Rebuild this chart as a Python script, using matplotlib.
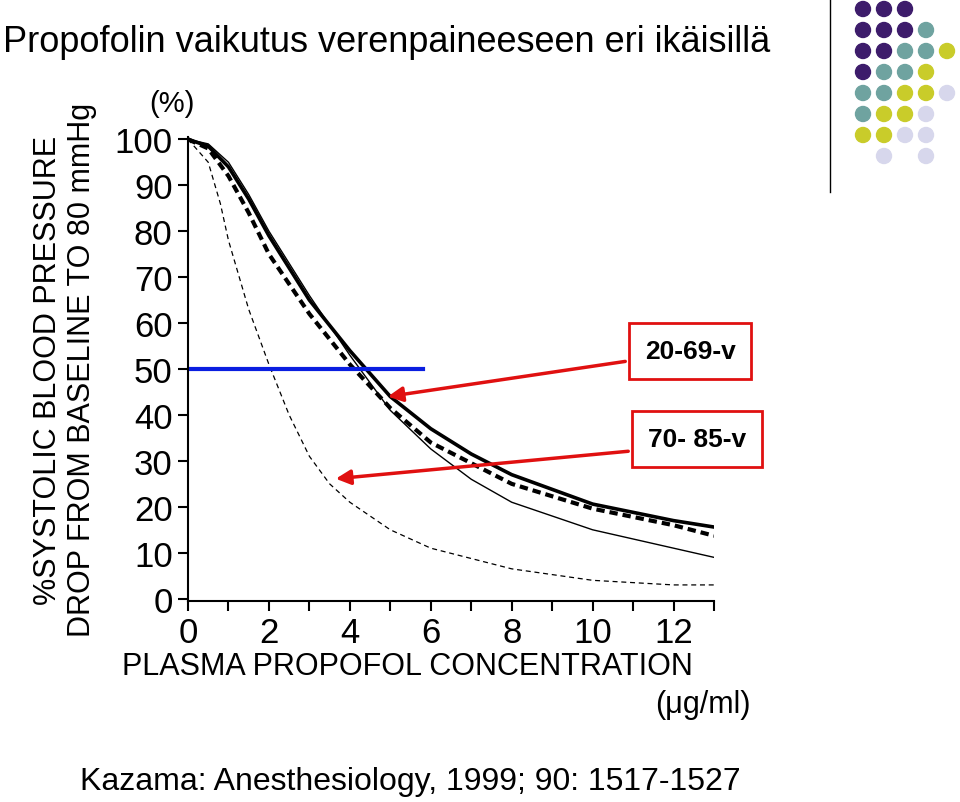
import matplotlib.pyplot as plt
from matplotlib.patches import Circle

plt.rcParams["font.family"] = "Liberation Sans"

# curves
x_thick = [0, 0.5, 1, 1.5, 2, 3, 4, 5, 6, 7, 8, 10, 12, 13]
y_thick = [100, 98.5, 94, 87, 79, 65, 54, 44, 37, 31.5, 27, 20.6, 17, 15.6]
x_thickd = [0, 0.5, 1, 1.5, 2, 3, 4, 5, 6, 8, 10, 12, 13]
y_thickd = [100, 98, 92, 84, 75, 62, 51, 41.5, 34, 25, 19.6, 16, 13.7]
x_thin = [0, 0.5, 1, 1.5, 2, 3, 4, 5, 6, 7, 8, 10, 12, 13]
y_thin = [100, 99, 95, 88, 80, 66, 53, 41, 32.6, 26, 21, 15, 11, 9]
x_thind = [0, 0.5, 0.8, 1, 1.5, 2, 2.5, 3, 3.5, 4, 5, 6, 8, 10, 12, 13]
y_thind = [100, 95, 86, 78, 63, 51, 40, 31, 25, 21, 15, 11, 6.5, 4, 3, 3]

xticks = [0, 2, 4, 6, 8, 10, 12]
yticks = [0, 10, 20, 30, 40, 50, 60, 70, 80, 90, 100]

W, H = 960, 803
fig = plt.figure(figsize=(9.6, 8.03), dpi=100)

def fx(px):
    return px / W

def fy(py):
    return 1 - py / H

ax = fig.add_axes([fx(188), fy(602), fx(714) - fx(188), fy(138) - fy(602)])
ax.plot(x_thick, y_thick, color="black", lw=2.6)
ax.plot(x_thickd, y_thickd, color="black", lw=3, ls=(0, (2, 1.2)))
ax.plot(x_thin, y_thin, color="black", lw=1)
ax.plot(x_thind, y_thind, color="black", lw=0.9, ls=(0, (4, 3)))
ax.plot([0, 5.8], [50, 50], color="#0a1ee0", lw=3)
ax.set_xlim(0, 13)
ax.set_ylim(-0.5, 100.5)
ax.set_xticks(xticks)
ax.set_xticks(range(0, 14), minor=True)
ax.set_yticks(yticks)
ax.tick_params(labelsize=25, length=7, width=1.5, pad=4)
ax.tick_params(which="minor", length=7, width=1.5)
for s in ["top", "right"]:
    ax.spines[s].set_visible(False)
for s in ["left", "bottom"]:
    ax.spines[s].set_linewidth(1.5)

fig.text(fx(65), fy(370), "%SYSTOLIC BLOOD PRESSURE\nDROP FROM BASELINE TO 80 mmHg",
         rotation=90, ha="center", va="center", fontsize=22, linespacing=1.2)
fig.text(fx(172), fy(104), "(%)", ha="center", va="center", fontsize=21)
fig.text(fx(407), fy(667), "PLASMA PROPOFOL CONCENTRATION", ha="center", va="center", fontsize=22)
fig.text(fx(703), fy(705), "(\u03bcg/ml)", ha="center", va="center", fontsize=22)

fig.text(fx(3), fy(42), "Propofolin vaikutus verenpaineeseen eri ikäisillä",
         ha="left", va="center", fontsize=26)
fig.text(fx(80), fy(782), "Kazama: Anesthesiology, 1999; 90: 1517-1527",
         ha="left", va="center", fontsize=23)

# labelled boxes with arrows
for txt, cx, cy, tip, start in [("20-69-v", 690, 352, (385, 398), (628, 362)),
                                ("70- 85-v", 697, 440, (333, 480), (631, 452))]:
    fig.text(fx(cx), fy(cy), txt, ha="center", va="center", fontsize=19, fontweight="bold",
             bbox=dict(boxstyle="square,pad=0.6", fc="white", ec="#e01010", lw=2))
    fig.add_artist(plt.Annotation("", xy=(fx(tip[0]), fy(tip[1])), xycoords="figure fraction",
                                  xytext=(fx(start[0]), fy(start[1])), textcoords="figure fraction",
                                  arrowprops=dict(arrowstyle="-|>", color="#e01010", lw=2.5,
                                                  mutation_scale=22)))

# decorative dots and divider line
fig.add_artist(plt.Line2D([fx(830), fx(830)], [fy(0), fy(193)], color="black", lw=1))
P, T, Y, L = "#3d1c6b", "#6fa3a0", "#c9cc2a", "#d7d7ec"
dot_rows = [
    [P, P, P, None, None],
    [P, P, P, T, None],
    [P, P, T, T, Y],
    [P, T, T, Y, None],
    [T, T, Y, Y, L],
    [T, Y, Y, L, None],
    [Y, Y, L, L, None],
    [None, L, None, L, None],
]
for r, row in enumerate(dot_rows):
    for c, col in enumerate(row):
        if col:
            fig.add_artist(Circle((863 + 21 * c, H - (10 + 21 * r)), 7.5, color=col,
                                  transform=None))

fig.savefig("out.png", dpi=100)
